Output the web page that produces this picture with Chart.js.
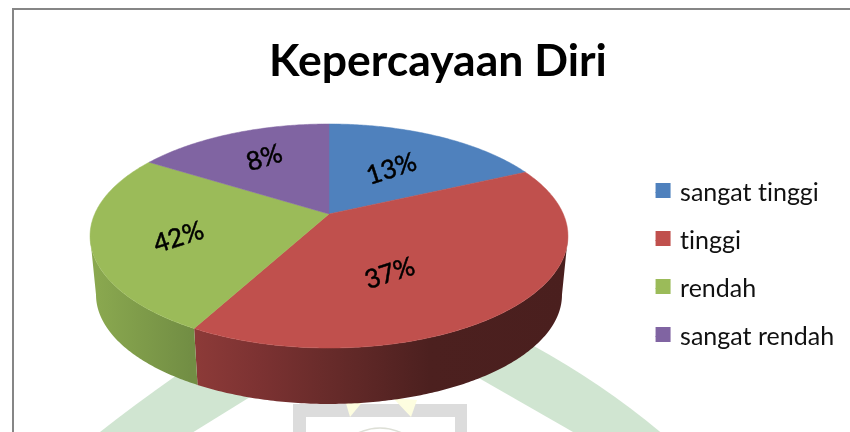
<!DOCTYPE html>
<html>
<head>
<meta charset="utf-8">
<style>
  html, body { margin: 0; padding: 0; background: #fff; overflow: hidden; }
  #wrap { position: relative; width: 850px; height: 432px; }
  canvas { display: block; }
</style>
<script src="https://cdn.jsdelivr.net/npm/chart.js@4"></script>
</head>
<body>
<div id="wrap"><canvas id="pie" width="850" height="432"></canvas></div>
<script>
const categories = ['sangat tinggi', 'tinggi', 'rendah', 'sangat rendah'];
// share of the circle each slice really covers in the picture
const sliceShares = [18.1, 39.8, 26.0, 16.1];
// the printed percentages do not agree with the slice sizes, so they stay separate
const percentLabels = ['13%', '37%', '42%', '8%'];
const sliceColors = ['#4F81BD', '#C0504D', '#9BBB59', '#8064A2'];

// pie seen in perspective: unit circle -> screen
const cx = 329, topY = 214, A = 234.3, B = 107.7, K = 0.1964;
const bottomY = 273.3, bottomScale = 0.975;
// where the rim turns away from the viewer
const rightEdge = Math.asin(K), leftEdge = Math.PI - Math.asin(K);

function project(angle, rad, y0, scale) {
  const u = Math.cos(angle) * rad;
  const v = Math.sin(angle) * rad;
  const w = 1 - K * v;
  return [cx + scale * A * u / w, y0 + scale * B * v / w];
}

// only red and green show their side wall
const sideShades = [
  null,
  [[197, '#8c3a38'], [260, '#7c3232'], [320, '#6a2c2b'], [430, '#4c201f'], [567, '#4a1f1e']],
  [[96, '#8aa84f'], [190, '#728e44']],
  null
];

// label spot relative to the slice: fraction of radius, angle shift in degrees
const labelSpots = [[0.54, 0], [0.55, 18], [0.65, -4], [0.655, 1]];

function tracePath(ctx, pts) {
  ctx.beginPath();
  pts.forEach((p, i) => i ? ctx.lineTo(p[0], p[1]) : ctx.moveTo(p[0], p[1]));
  ctx.closePath();
}

function rimPoints(a0, a1, y0, scale) {
  const pts = [];
  const steps = Math.max(2, Math.ceil((a1 - a0) * 90));
  for (let i = 0; i <= steps; i++) {
    pts.push(project(a0 + (a1 - a0) * i / steps, 1, y0, scale));
  }
  return pts;
}

const watermark = {
  id: 'watermark',
  beforeDraw(chart) {
    const ctx = chart.ctx;
    // tiny spacing keeps Lato from joining "ti" into a ligature
    ctx.letterSpacing = '0.01px';
    ctx.save();
    ctx.fillStyle = '#fff';
    ctx.fillRect(0, 0, 850, 432);

    // green ring of the logo behind the chart
    ctx.fillStyle = '#d0e5d1';
    ctx.beginPath();
    ctx.moveTo(95, 436);
    ctx.quadraticCurveTo(130, 408, 177, 375);
    ctx.lineTo(250, 397);
    ctx.lineTo(187, 436);
    ctx.closePath();
    ctx.fill();
    ctx.beginPath();
    ctx.moveTo(532, 345);
    ctx.quadraticCurveTo(605, 385, 665, 436);
    ctx.lineTo(580, 436);
    ctx.lineTo(477, 377);
    ctx.closePath();
    ctx.fill();

    // grey square
    ctx.fillStyle = '#dcdcdc';
    ctx.beginPath();
    ctx.moveTo(293, 436);
    ctx.lineTo(293, 404);
    ctx.lineTo(467, 404);
    ctx.lineTo(467, 436);
    ctx.lineTo(455, 436);
    ctx.lineTo(455, 417);
    ctx.lineTo(306, 417);
    ctx.lineTo(306, 436);
    ctx.closePath();
    ctx.fill();

    // yellow points
    ctx.fillStyle = '#fdfde0';
    ctx.beginPath();
    ctx.moveTo(345, 400);
    ctx.lineTo(350, 417);
    ctx.lineTo(364, 400);
    ctx.closePath();
    ctx.fill();
    ctx.beginPath();
    ctx.moveTo(393, 398);
    ctx.lineTo(411, 417);
    ctx.lineTo(417, 400);
    ctx.closePath();
    ctx.fill();

    // top of the dome
    ctx.strokeStyle = '#dddfd6';
    ctx.lineWidth = 1.5;
    ctx.beginPath();
    ctx.moveTo(358, 433);
    ctx.quadraticCurveTo(380, 423, 402, 433);
    ctx.stroke();

    // chart frame, runs off the page on the right and bottom
    ctx.fillStyle = '#868686';
    ctx.fillRect(12, 8, 838, 2);
    ctx.fillRect(12, 8, 2, 424);
    ctx.restore();
  }
};

const pie3d = {
  id: 'pie3d',
  beforeDatasetDraw(chart, args) {
    const ctx = chart.ctx;
    const arcs = chart.getDatasetMeta(args.index).data;
    ctx.save();

    // side walls first, only the part of the rim facing the viewer
    arcs.forEach((arc, i) => {
      if (!sideShades[i]) return;
      const stops = sideShades[i];
      const a0 = Math.max(arc.startAngle, rightEdge);
      const a1 = Math.min(arc.endAngle, leftEdge);
      const top = rimPoints(a0, a1, topY, 1);
      const low = rimPoints(a0, a1, bottomY, bottomScale).reverse();
      const x0 = stops[0][0], x1 = stops[stops.length - 1][0];
      const grad = ctx.createLinearGradient(x0, 0, x1, 0);
      stops.forEach(s => grad.addColorStop((s[0] - x0) / (x1 - x0), s[1]));
      tracePath(ctx, top.concat(low));
      ctx.fillStyle = grad;
      ctx.fill();
    });

    // top faces
    arcs.forEach((arc, i) => {
      const pts = [[cx, topY]].concat(rimPoints(arc.startAngle, arc.endAngle, topY, 1));
      tracePath(ctx, pts);
      ctx.fillStyle = sliceColors[i];
      ctx.strokeStyle = sliceColors[i];
      ctx.lineWidth = 0.5;
      ctx.fill();
      ctx.stroke();
    });

    // percent labels lie tilted on the top face
    ctx.fillStyle = '#000';
    ctx.strokeStyle = '#000';
    ctx.lineWidth = 0.5;
    ctx.font = '26px Lato';
    ctx.textAlign = 'center';
    ctx.textBaseline = 'middle';
    arcs.forEach((arc, i) => {
      const mid = (arc.startAngle + arc.endAngle) / 2 + labelSpots[i][1] * Math.PI / 180;
      const p = project(mid, labelSpots[i][0], topY, 1);
      ctx.save();
      ctx.translate(p[0], p[1]);
      ctx.rotate(-18 * Math.PI / 180);
      ctx.fillText(percentLabels[i], 0, 0);
      ctx.strokeText(percentLabels[i], 0, 0);
      ctx.restore();
    });

    ctx.restore();
    return false;
  },
  afterDraw(chart) {
    // legend swatches sit closer to the text and a little higher than the library allows
    const ctx = chart.ctx;
    chart.legend.legendHitBoxes.forEach((hit, i) => {
      ctx.fillStyle = sliceColors[i];
      ctx.fillRect(hit.left, hit.top + (hit.height - 15) / 2 - 2, 15, 15);
    });
  }
};

new Chart(document.getElementById('pie'), {
  type: 'pie',
  data: {
    labels: categories,
    datasets: [{
      data: sliceShares,
      backgroundColor: sliceColors,
      borderWidth: 0
    }]
  },
  options: {
    responsive: false,
    animation: false,
    layout: { padding: { left: 32, right: 6, top: 35, bottom: 60 } },
    plugins: {
      tooltip: { enabled: false },
      title: {
        display: true,
        text: 'Kepercayaan Diri',
        color: '#000',
        font: { family: 'Lato', size: 44.5, weight: 'bold' },
        padding: { top: 0, bottom: 40 }
      },
      legend: {
        display: true,
        position: 'right',
        align: 'end',
        labels: {
          color: '#111',
          font: { family: 'Lato', size: 25 },
          boxWidth: 12,
          boxHeight: 1,
          padding: 23
        }
      }
    }
  },
  plugins: [watermark, pie3d]
});
</script>
</body>
</html>
